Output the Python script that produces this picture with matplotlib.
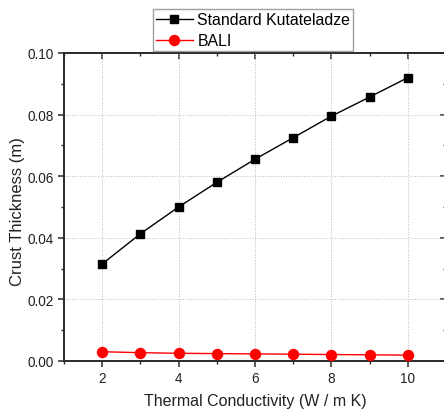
import matplotlib
matplotlib.use("Agg")
import matplotlib.pyplot as plt
from matplotlib.ticker import MultipleLocator

plt.rcParams['font.family'] = ['Liberation Sans', 'DejaVu Sans']

# data
conductivity = [2, 3, 4, 5, 6, 7, 8, 9, 10]
kutateladze = [0.0315, 0.0413, 0.0500, 0.0580, 0.0655, 0.0725, 0.0795, 0.0857, 0.0920]
bali = [0.0030, 0.0027, 0.0025, 0.0024, 0.0023, 0.0022, 0.0021, 0.0020, 0.0019]

fig = plt.figure(figsize=(4.44, 4.10), dpi=100)
ax = fig.add_axes([0.1441, 0.1171, 0.8604, 0.7512])

ax.plot(conductivity, kutateladze, color='black', lw=1, marker='s', ms=6.3,
        label='Standard Kutateladze', zorder=3)
ax.plot(conductivity, bali, color='#ff0000', lw=1, marker='o', ms=7.2,
        label='BALI', zorder=3)

ax.set_xlim(1, 11)
ax.set_ylim(0, 0.10)
ax.xaxis.set_major_locator(MultipleLocator(2))
ax.xaxis.set_minor_locator(MultipleLocator(1))
ax.yaxis.set_major_locator(MultipleLocator(0.02))
ax.yaxis.set_minor_locator(MultipleLocator(0.01))
ax.yaxis.set_major_formatter(plt.FuncFormatter(lambda v, p: f'{v:.2f}'))
ax.grid(True, which='major', ls=':', color='#bbbbbb', lw=0.7)

spc = '#2a2a2a'
for s in ax.spines.values():
    s.set_color(spc)
    s.set_linewidth(1.4)
ax.tick_params(which='major', direction='out', length=4.5, width=1.1, color=spc,
               labelsize=9.8, labelcolor='#222222', pad=3)
ax.tick_params(which='minor', direction='out', length=2.5, width=1.0, color=spc)

# top / right ticks pointing inward, no labels
topx = ax.secondary_xaxis('top')
topx.xaxis.set_major_locator(MultipleLocator(2))
topx.xaxis.set_minor_locator(MultipleLocator(1))
topx.set_xticklabels([])
righty = ax.secondary_yaxis('right')
righty.yaxis.set_major_locator(MultipleLocator(0.02))
righty.yaxis.set_minor_locator(MultipleLocator(0.01))
righty.set_yticklabels([])
for sec in (topx, righty):
    sec.tick_params(which='major', direction='in', length=4.5, width=1.1, color=spc)
    sec.tick_params(which='minor', direction='in', length=2.5, width=1.0, color=spc)
    sec.spines[:].set_visible(False)

ax.set_xlabel('Thermal Conductivity (W / m K)', fontsize=11.5, color='#222222', va='center')
ax.xaxis.set_label_coords(0.5, (362 - 402) / 308)
ax.set_ylabel('Crust Thickness (m)', fontsize=12, color='#222222', va='center')
ax.yaxis.set_label_coords((18 - 64) / 382, 0.49)

leg = fig.legend(loc='upper left', bbox_to_anchor=(153 / 444, 1 - 10 / 410), fontsize=11.4,
                 frameon=True, fancybox=False, edgecolor='#888888',
                 handlelength=2.3, borderpad=0.2, labelspacing=0.38,
                 handletextpad=0.3, borderaxespad=0)
leg.get_frame().set_linewidth(1.0)

fig.savefig('out.png', dpi=100)
